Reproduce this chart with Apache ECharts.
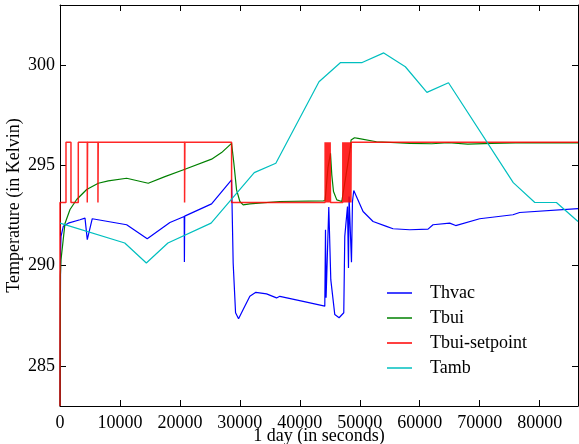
<!DOCTYPE html>
<html>
<head>
<meta charset="utf-8">
<script src="https://cdn.jsdelivr.net/npm/echarts@6/dist/echarts.min.js"></script>
<style>
html,body{margin:0;padding:0;background:#fff;}
#chart{width:579px;height:444px;}
</style>
</head>
<body>
<div id="chart"></div>
<script>
// ---- data (time in seconds, temperature in Kelvin) ----
const seriesNames = ["Thvac", "Tbui", "Tbui-setpoint", "Tamb"];
const xTicks = [0, 10000, 20000, 30000, 40000, 50000, 60000, 70000, 80000];
const yTicks = [285, 290, 295, 300];

const thvac = [[0,283],[100,290.8],[170,291.46],[550,291.96],[1380,292.12],[3330,292.29],[4170,292.37],[4550,291.3],[5380,292.34],[11117,292.04],[14550,291.34],[18333,292.15],[20717,292.45],[20750,290.18],[20800,292.47],[25283,293.08],[28617,294.28],[28883,290.13],[29283,287.65],[29783,287.35],[30550,287.81],[31667,288.47],[32667,288.67],[34450,288.59],[36117,288.39],[36667,288.47],[40550,288.22],[44167,287.98],[44283,291.79],[44383,288.4],[44833,292.92],[45167,289.3],[45833,287.56],[46550,287.4],[47333,287.65],[47500,291.46],[47950,292.95],[48117,289.88],[48217,293.45],[48617,290.17],[48783,293.2],[49000,293.75],[49300,293.72],[50550,292.7],[52217,292.2],[54450,291.96],[55550,291.84],[58333,291.79],[61383,291.82],[62217,292.04],[65000,292.12],[66000,292.0],[70000,292.34],[75550,292.54],[76667,292.65],[86400,292.84]];

const tbui = [[0,283],[60,289.5],[167,290.3],[500,291.2],[830,292.1],[1670,292.8],[2780,293.3],[4450,293.8],[6383,294.11],[8050,294.23],[11117,294.36],[14717,294.11],[17500,294.44],[20833,294.81],[25283,295.31],[26950,295.64],[28617,296.1],[29000,295.11],[29450,293.78],[30000,293.2],[30550,293.03],[31667,293.08],[36667,293.2],[43883,293.23],[44220,293.25],[44700,294.9],[45117,295.6],[45333,294.53],[45617,293.7],[46167,293.28],[47000,293.2],[47167,293.2],[47700,294.5],[48283,295.6],[48450,295.94],[48550,296.27],[49120,296.38],[49717,296.35],[52783,296.18],[58333,296.1],[62000,296.08],[64800,296.13],[68000,296.06],[72000,296.1],[78000,296.13],[86400,296.12]];

// setpoint changes: value holds from each time until the next one
const tbuiSetpoint = [[0,283],[0,293.15],[1000,296.15],[1830,293.15],[3050,296.15],[4550,293.15],[4600,296.15],[6330,293.15],[6380,296.15],[20780,293.15],[20830,296.15],[28620,293.15],[44220,296.15],[44280,293.15],[44340,296.15],[44400,293.15],[44460,296.15],[44520,293.15],[44580,296.15],[44640,293.15],[44700,296.15],[44760,293.15],[44820,296.15],[44880,293.15],[44940,296.15],[45000,293.15],[45060,296.15],[45117,293.15],[47170,296.15],[47230,293.15],[47290,296.15],[47350,293.15],[47410,296.15],[47470,293.15],[47530,296.15],[47590,293.15],[47650,296.15],[47710,293.15],[47770,296.15],[47830,293.15],[47890,296.15],[47950,293.15],[48010,296.15],[48070,293.15],[48130,296.15],[48190,293.15],[48250,296.15],[48280,293.15],[48400,296.15],[48420,293.15],[48500,296.15],[48520,293.15],[48580,296.15],[86400,296.15]];

const tamb = [[0,292.12],[10800,291.13],[14400,290.13],[18000,291.13],[25200,292.12],[32400,294.64],[36000,295.11],[43200,299.17],[46800,300.13],[50400,300.13],[54000,300.61],[57600,299.92],[61200,298.64],[64800,299.12],[75600,294.14],[79200,293.15],[82800,293.15],[86400,292.2]];

// ---- chart ----
const FONT = "Liberation Serif";
const chart = echarts.init(document.getElementById('chart'), null, {renderer: 'canvas'});

const tickStyle = {inside: true, length: 6, lineStyle: {color: '#000', width: 1}};
const lineStyle = {color: '#000', width: 1};

chart.setOption({
  animation: false,
  backgroundColor: '#fff',
  textStyle: {fontFamily: FONT},
  grid: {left: 60, right: 1, top: 5, bottom: 38, containLabel: false, outerBoundsMode: 'none'},
  legend: {
    data: seriesNames,
    orient: 'vertical',
    left: 387,
    top: 284,
    padding: 0,
    icon: 'rect',
    itemWidth: 25,
    itemHeight: 1.5,
    itemGap: 7,
    textStyle: {fontFamily: FONT, fontSize: 18, color: '#000', lineHeight: 18, padding: [0, 0, 0, 13]}
  },
  xAxis: [{
    type: 'value', min: 0, max: 86400, position: 'bottom',
    name: '1 day (in seconds)', nameLocation: 'middle', nameGap: 21, nameMoveOverlap: false,
    nameTextStyle: {fontFamily: FONT, fontSize: 18, color: '#000'},
    axisLine: {show: true, onZero: false, lineStyle: lineStyle},
    axisTick: Object.assign({customValues: xTicks}, tickStyle),
    axisLabel: {customValues: xTicks, formatter: v => String(v), fontFamily: FONT, fontSize: 18, color: '#000', margin: 8},
    splitLine: {show: false}
  }, {
    type: 'value', min: 0, max: 86400, position: 'top',
    axisLine: {show: true, onZero: false, lineStyle: lineStyle},
    axisTick: Object.assign({customValues: xTicks}, tickStyle),
    axisLabel: {show: false},
    splitLine: {show: false}
  }],
  yAxis: [{
    type: 'value', min: 283, max: 303, position: 'left',
    name: 'Temperature (in Kelvin)', nameLocation: 'middle', nameGap: 37, nameMoveOverlap: false,
    nameTextStyle: {fontFamily: FONT, fontSize: 18, color: '#000'},
    axisLine: {show: true, onZero: false, lineStyle: lineStyle},
    axisTick: Object.assign({customValues: yTicks}, tickStyle),
    axisLabel: {customValues: yTicks, formatter: v => String(v), fontFamily: FONT, fontSize: 18, color: '#000', margin: 5},
    splitLine: {show: false}
  }, {
    type: 'value', min: 283, max: 303, position: 'right',
    axisLine: {show: true, onZero: false, lineStyle: lineStyle},
    axisTick: Object.assign({customValues: yTicks}, tickStyle),
    axisLabel: {show: false},
    splitLine: {show: false}
  }],
  series: [
    {name: seriesNames[0], type: 'line', data: thvac, showSymbol: false, symbol: 'none',
     lineStyle: {color: '#0000ff', width: 1.2}, itemStyle: {color: '#0000ff'}},
    {name: seriesNames[1], type: 'line', data: tbui, showSymbol: false, symbol: 'none',
     lineStyle: {color: '#008000', width: 1.2}, itemStyle: {color: '#008000'}},
    {name: seriesNames[2], type: 'line', data: tbuiSetpoint, step: 'end', showSymbol: false, symbol: 'none',
     lineStyle: {color: '#ff0000', width: 1.5, opacity: 0.85}, itemStyle: {color: '#ff0000'}},
    {name: seriesNames[3], type: 'line', data: tamb, showSymbol: false, symbol: 'none',
     lineStyle: {color: '#00bfbf', width: 1.2}, itemStyle: {color: '#00bfbf'}}
  ]
});
</script>
</body>
</html>
